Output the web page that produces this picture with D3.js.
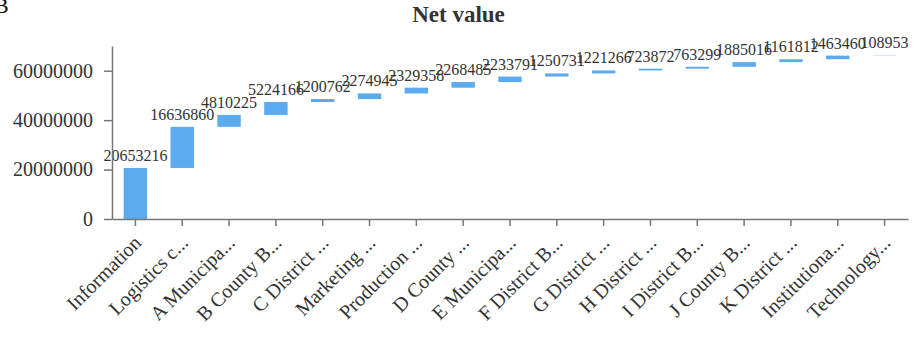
<!DOCTYPE html>
<html>
<head>
<meta charset="utf-8">
<script src="https://cdn.jsdelivr.net/npm/d3@7"></script>
<style>
  body { margin: 0; background: #fff; }
  text { font-family: "Liberation Serif", "Times New Roman", serif; }
</style>
</head>
<body>
<svg id="my_container" width="917" height="338"></svg>
<script>
// data
var categories = ["Information", "Logistics c...", "A Municipa...", "B County B...", "C District ...",
    "Marketing ...", "Production ...", "D County ...", "E Municipa...", "F District B...",
    "G District ...", "H District ...", "I District B...", "J County B...", "K District ...",
    "Institutiona...", "Technology..."];
var values = [20653216, 16636860, 4810225, 5224166, 1200762, 2274945, 2329358, 2268485,
    2233791, 1250731, 1221266, 723872, 763299, 1885016, 1161812, 1463460, 108953];
var yTicks = [0, 20000000, 40000000, 60000000];

var width = 917, height = 338;
var plotLeft = 112, plotRight = 908, plotTop = 46, plotBottom = 219;

// waterfall steps
var steps = [];
var running = 0;
values.forEach(function(v, i){
    steps.push({name: categories[i], value: v, start: running, end: running + v});
    running += v;
});

var svg = d3.select("#my_container");

var xScale = d3.scaleBand()
    .domain(categories)
    .range([plotLeft, plotRight])
    .paddingInner(0.5)
    .paddingOuter(0.25);

var yScale = d3.scaleLinear()
    .domain([0, running])
    .nice()
    .range([plotBottom, plotTop]);

// title + panel letter
svg.append("text")
    .attr("x", -6)
    .attr("y", 13)
    .attr("font-size", 22)
    .attr("fill", "#111")
    .text("B");

svg.append("text")
    .attr("x", width / 2)
    .attr("y", 22)
    .attr("text-anchor", "middle")
    .attr("font-size", 23)
    .attr("font-weight", "bold")
    .attr("fill", "#333")
    .text("Net value");

// bars
svg.selectAll("rect.bar")
    .data(steps)
    .enter()
    .append("rect")
    .attr("class", "bar")
    .attr("x", function(d){ return xScale(d.name); })
    .attr("width", xScale.bandwidth())
    .attr("y", function(d){ return yScale(d.end); })
    .attr("height", function(d){ return yScale(d.start) - yScale(d.end); })
    .attr("fill", "#5aabf0");

// value labels
svg.selectAll("text.val")
    .data(steps)
    .enter()
    .append("text")
    .attr("class", "val")
    .attr("x", function(d){ return xScale(d.name) + xScale.bandwidth() / 2; })
    .attr("y", function(d){ return yScale(d.end) - 7; })
    .attr("text-anchor", "middle")
    .attr("font-size", 16)
    .attr("fill", "#333")
    .text(function(d){ return d.value; });

// axes
var yAxis = svg.append("g")
    .attr("transform", "translate(" + plotLeft + ",0)")
    .call(d3.axisLeft(yScale).tickValues(yTicks).tickFormat(d3.format("d"))
        .tickSize(8).tickSizeOuter(0).tickPadding(11));

var xAxis = svg.append("g")
    .attr("transform", "translate(0," + plotBottom + ")")
    .call(d3.axisBottom(xScale).tickSize(7).tickSizeOuter(0));

[yAxis, xAxis].forEach(function(ax){
    ax.select(".domain").attr("stroke", "#777").attr("stroke-width", 1.5);
    ax.selectAll(".tick line").attr("stroke", "#777").attr("stroke-width", 1.5);
    ax.selectAll(".tick text")
        .attr("fill", "#333")
        .style("font-family", "'Liberation Serif', 'Times New Roman', serif")
        .style("font-size", "20px");
});

xAxis.selectAll(".tick text")
    .attr("x", 0)
    .attr("y", 0)
    .attr("dy", 0)
    .attr("transform", "translate(7,25) rotate(-45)")
    .style("text-anchor", "end");
</script>
</body>
</html>
